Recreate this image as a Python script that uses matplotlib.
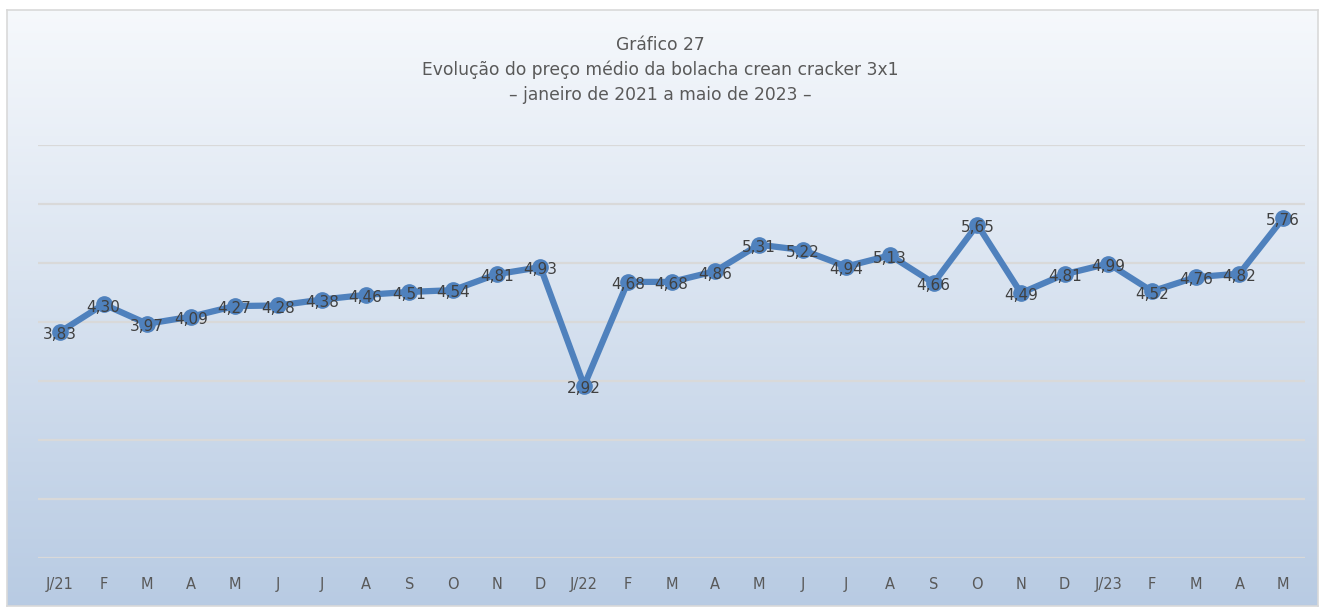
import numpy as np
import matplotlib.pyplot as plt

MONTHS = ["J/21", "F", "M", "A", "M", "J", "J", "A", "S", "O", "N", "D",
          "J/22", "F", "M", "A", "M", "J", "J", "A", "S", "O", "N", "D",
          "J/23", "F", "M", "A", "M"]
PRICES = [3.83, 4.30, 3.97, 4.09, 4.27, 4.28, 4.38, 4.46, 4.51, 4.54, 4.81, 4.93,
          2.92, 4.68, 4.68, 4.86, 5.31, 5.22, 4.94, 5.13, 4.66, 5.65, 4.49, 4.81,
          4.99, 4.52, 4.76, 4.82, 5.76]

TITLE = ("Gráfico 27\n"
         "Evolução do preço médio da bolacha crean cracker 3x1\n"
         "– janeiro de 2021 a maio de 2023 –")

W, H = 1320, 608
fig = plt.figure(figsize=(W / 100, H / 100), dpi=100)

# background panel with vertical gradient and thin grey border
bg = fig.add_axes([7 / W, 2 / H, (W - 9) / W, (H - 12) / H], zorder=0)
grad = np.linspace(0, 1, 256).reshape(-1, 1)
top = np.array([0.965, 0.975, 0.988])
bot = np.array([0.722, 0.796, 0.890])
img = top + (bot - top) * grad[..., None]
bg.imshow(img, aspect="auto", extent=[0, 1, 0, 1], origin="upper")
bg.set_xticks([]); bg.set_yticks([])
for s in bg.spines.values():
    s.set_color("#d9d9d9")
    s.set_linewidth(1.2)

ax = fig.add_axes([38 / W, 1 - 558 / H, (1305 - 38) / W, (558 - 145) / H], zorder=1)
ax.patch.set_alpha(0)
x = np.arange(len(PRICES))
ax.set_xlim(-0.5, len(PRICES) - 0.5)
ax.set_ylim(0, 7)
ax.set_yticks(range(0, 8))
ax.grid(axis="y", color="#d9d9d9", lw=1.6)
ax.set_axisbelow(True)
ax.tick_params(axis="y", left=False, labelleft=False)
ax.tick_params(axis="x", length=0, pad=14, labelsize=10.5, labelcolor="#595959")
ax.set_xticks(x)
ax.set_xticklabels(MONTHS)
for s in ax.spines.values():
    s.set_visible(False)

ax.plot(x, PRICES, color="#4f81bd", lw=4.5, marker="o", ms=11,
        markerfacecolor="#4f81bd", markeredgecolor="#4f81bd", zorder=3)
for xi, v in zip(x, PRICES):
    ax.annotate(f"{v:.2f}".replace(".", ","), (xi, v), xytext=(0, -2),
                textcoords="offset points", ha="center", va="center",
                fontsize=11, color="#404040", zorder=4)

fig.text(0.5, 1 - 70 / H, TITLE, ha="center", va="center", fontsize=12.3,
         color="#595959", linespacing=1.45)

fig.savefig("out.png", dpi=100)
